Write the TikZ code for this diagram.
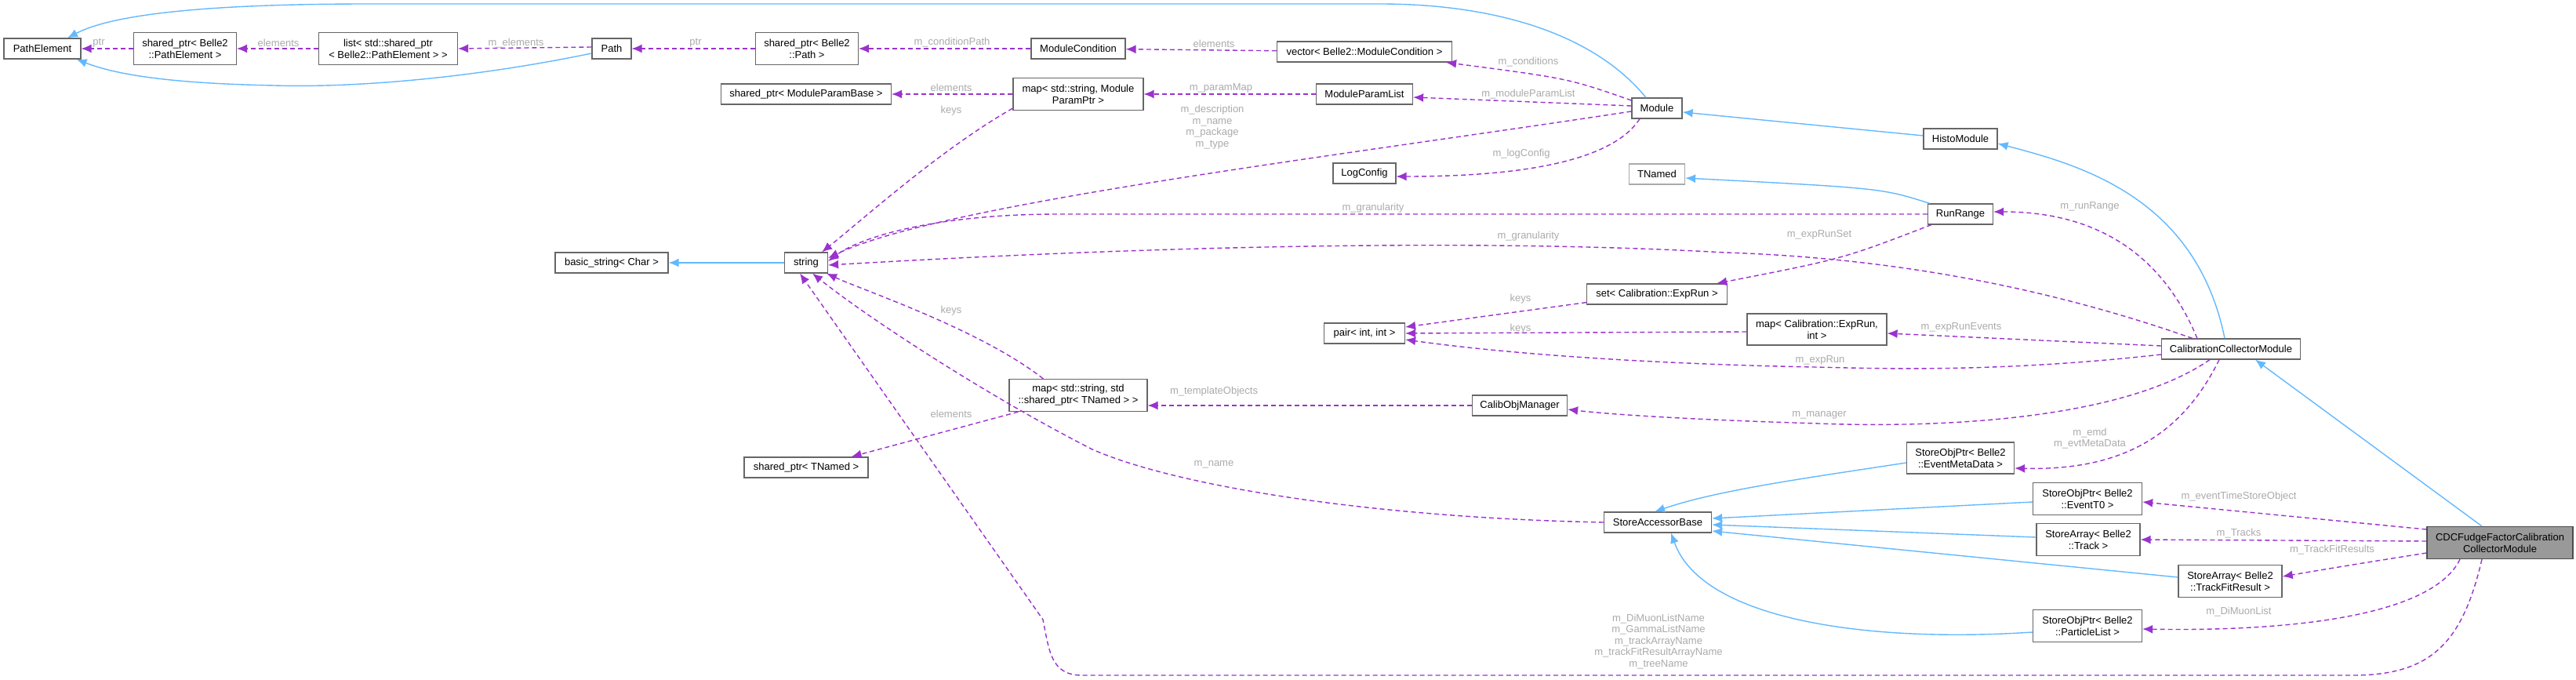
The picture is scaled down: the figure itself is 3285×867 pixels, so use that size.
\documentclass[tikz,border=0pt]{standalone}
\usepackage{fontspec}
\setmainfont{Liberation Sans}
\usetikzlibrary{arrows.meta,calc}
\definecolor{inhc}{RGB}{99,184,255}
\definecolor{usec}{RGB}{154,50,205}
\definecolor{lblc}{RGB}{170,170,170}
\definecolor{bordc}{RGB}{102,102,102}
\begin{document}
\begin{tikzpicture}[x=1pt,y=-1pt,
  box/.style={draw=bordc,line width=1.2pt,fill=white,font=\fontsize{13}{15}\selectfont,align=center,inner sep=1pt,minimum height=26pt},
  box2/.style={box,minimum height=41pt},
  inh/.style={draw=inhc,line width=1.4pt,-{Latex[length=13pt,width=11pt]}},
  use/.style={draw=usec,line width=1.4pt,dash pattern=on 6pt off 4pt,-{Latex[length=13pt,width=11pt]}},
  lbl/.style={text=lblc,font=\fontsize{13}{14.5}\selectfont,align=center,inner sep=0pt}]
\useasboundingbox (0,0) rectangle (3285,867);
% nodes
\node[box,minimum width=98pt] (pe) at (54,62) {PathElement};
\node[box2,minimum width=131pt] (spe) at (236,62) {shared\_ptr< Belle2\\::PathElement >};
\node[box2,minimum width=177pt] (lst) at (495,62) {list< std::shared\_ptr\\< Belle2::PathElement > >};
\node[box,minimum width=50pt] (path) at (780,62) {Path};
\node[box2,minimum width=131pt] (spp) at (1029,62) {shared\_ptr< Belle2\\::Path >};
\node[box,minimum width=120pt] (mc) at (1375,62) {ModuleCondition};
\node[box,minimum width=223pt] (vec) at (1740,66) {vector< Belle2::ModuleCondition >};
\node[box,minimum width=217pt] (spmb) at (1028,120) {shared\_ptr< ModuleParamBase >};
\node[box2,minimum width=166pt] (mpp) at (1375,120) {map< std::string, Module\\ParamPtr >};
\node[box,minimum width=123pt] (mpl) at (1740,120) {ModuleParamList};
\node[box,minimum width=64pt] (mod) at (2113,138) {Module};
\node[box,minimum width=80pt] (lc) at (1740,221) {LogConfig};
\node[box,minimum width=71pt,draw=lblc] (tn) at (2113,222) {TNamed};
\node[box,minimum width=94pt] (hm) at (2500,177) {HistoModule};
\node[box,minimum width=83pt] (rr) at (2500,273) {RunRange};
\node[box,minimum width=144pt] (bs) at (780,335) {basic\_string< Char >};
\node[box,minimum width=55pt] (str) at (1028,335) {string};
\node[box,minimum width=179pt] (set) at (2113,375) {set< Calibration::ExpRun >};
\node[box,minimum width=103pt] (pair) at (1740,425) {pair< int, int >};
\node[box2,minimum width=178pt,minimum height=40pt] (mer) at (2317,420) {map< Calibration::ExpRun,\\int >};
\node[box,minimum width=177pt] (ccm) at (2845,445) {CalibrationCollectorModule};
\node[box2,minimum width=176pt] (mst) at (1375,504) {map< std::string, std\\::shared\_ptr< TNamed > >};
\node[box,minimum width=121pt] (com) at (1938,517) {CalibObjManager};
\node[box,minimum width=158pt] (sptn) at (1028,596) {shared\_ptr< TNamed >};
\node[box2,minimum width=137pt,minimum height=40pt] (emd) at (2500,584) {StoreObjPtr< Belle2\\::EventMetaData >};
\node[box2,minimum width=139pt] (t0) at (2662,636) {StoreObjPtr< Belle2\\::EventT0 >};
\node[box2,minimum width=132pt] (trk) at (2663,688) {StoreArray< Belle2\\::Track >};
\node[box2,minimum width=132pt] (tfr) at (2844,741) {StoreArray< Belle2\\::TrackFitResult >};
\node[box2,minimum width=139pt] (pl) at (2662,798) {StoreObjPtr< Belle2\\::ParticleList >};
\node[box,minimum width=137pt] (sab) at (2114,666) {StoreAccessorBase};
\node[box2,minimum width=186pt,fill=black!40,draw=black!70] (cdc) at (3188,692) {CDCFudgeFactorCalibration\\CollectorModule};
% inheritance
\draw[inh] ($(mod.north)+(-14,0)$) .. controls (2030,40) and (1900,5) .. (1760,5) -- (470,5) .. controls (250,5) and (140,20) .. ($(pe.north)+(32,0)$);
\draw[inh] ($(path.west)+(0,6)$) .. controls (600,100) and (450,112) .. (350,109) .. controls (250,107) and (160,100) .. ($(pe.south east)+(-6,0)$);
\draw[inh] (str) -- (bs);
\draw[inh] ($(hm.west)+(0,-4)$) -- ($(mod.east)+(0,5)$);
\draw[inh] ($(rr.north west)+(3,0)$) .. controls (2400,240) .. ($(tn.east)+(0,5)$);
\draw[inh] ($(ccm.north)+(-8,0)$) .. controls (2800,250) and (2650,210) .. ($(hm.east)+(0,6)$);
\draw[inh] ($(cdc.north)+(-23,0)$) -- ($(ccm.south)+(31,0)$);
\draw[inh] ($(emd.west)+(0,6)$) .. controls (2300,610) and (2190,625) .. ($(sab.north)+(-4,0)$);
\draw[inh] ($(t0.west)+(0,4)$) -- ($(sab.east)+(0,-5)$);
\draw[inh] ($(trk.west)+(0,-3)$) -- ($(sab.east)+(0,3)$);
\draw[inh] ($(tfr.west)+(0,-5)$) -- ($(sab.east)+(0,11)$);
\draw[inh] ($(pl.west)+(0,8)$) .. controls (2380,820) and (2170,790) .. ($(sab.south)+(17,0)$);
% usage
\draw[use] (spe) -- (pe);
\draw[use] (lst) -- (spe);
\draw[use] ($(path.west)+(0,-2)$) -- (lst.east|-path.west);
\draw[use] (spp) -- (path);
\draw[use] (mc) -- (spp);
\draw[use] (vec) -- (mc);
\draw[use] ($(mod.west)+(0,-10)$) .. controls (2000,100) .. ($(vec.south east)+(-8,0)$);
\draw[use] (mpp.west|-spmb) -- (spmb);
\draw[use] ($(mpp.south west)+(0,-3)$) .. controls (1200,190) and (1100,280) .. ($(str.north east)+(-8,0)$);
\draw[use] (mpl) -- (mpp.east|-mpl);
\draw[use] ($(mod.west)+(0,-3)$) -- ($(mpl.east)+(0,4)$);
\draw[use] ($(mod.west)+(0,4)$) .. controls (1700,200) and (1200,260) .. ($(str.east)+(0,-6)$);
\draw[use] ($(mod.south)+(-22,0)$) .. controls (2050,215) and (1900,225) .. ($(lc.east)+(0,4)$);
\draw[use] (rr.west) -- (1350,273) .. controls (1200,273) and (1100,300) .. ($(str.east)+(0,-2)$);
\draw[use] ($(ccm.north west)+(40,0)$) .. controls (2650,380) and (2450,330) .. (2200,322) .. controls (1900,305) and (1500,312) .. ($(str.east)+(0,3)$);
\draw[use] ($(rr.south west)+(5,0)$) .. controls (2350,330) .. ($(set.north east)+(-14,0)$);
\draw[use] ($(ccm.north west)+(46,0)$) .. controls (2760,330) and (2680,270) .. ($(rr.east)+(0,-3)$);
\draw[use] ($(set.south west)+(0,-3)$) -- ($(pair.east)+(0,-8)$);
\draw[use] ($(mer.west)+(0,3)$) -- (pair.east);
\draw[use] ($(ccm.west)+(0,-4)$) -- ($(mer.east)+(0,5)$);
\draw[use] ($(ccm.west)+(0,7)$) .. controls (2550,475) and (2400,470) .. (2314,468) .. controls (2150,465) and (1950,455) .. ($(pair.east)+(0,8)$);
\draw[use] ($(mst.north west)+(44,0)$) .. controls (1250,420) and (1100,370) .. ($(str.south east)+(-2,0)$);
\draw[use] ($(mst.south west)+(12,0)$) -- ($(sptn.north east)+(-22,0)$);
\draw[use] (com) -- (mst.east|-com);
\draw[use] ($(ccm.south)+(-27,0)$) .. controls (2700,540) and (2450,545) .. (2320,540) .. controls (2150,535) and (2050,528) .. ($(com.east)+(0,5)$);
\draw[use] ($(ccm.south)+(-15,0)$) .. controls (2780,560) and (2700,600) .. ($(emd.east)+(0,13)$);
\draw[use] (sab.west) .. controls (1750,660) and (1500,620) .. (1393,573) .. controls (1250,500) and (1100,400) .. ($(str.south)+(8,0)$);
\draw[use] ($(cdc.west)+(0,-17)$) -- ($(t0.east)+(0,4)$);
\draw[use] ($(cdc.west)+(0,-2)$) -- ($(trk.east)+(0,0)$);
\draw[use] ($(cdc.west)+(0,13)$) .. controls (3000,720) .. ($(tfr.east)+(0,-6)$);
\draw[use] ($(cdc.south)+(-51,0)$) .. controls (3100,790) and (2900,805) .. ($(pl.east)+(0,4)$);
\draw[use] ($(cdc.south)+(-23,0)$) .. controls (3140,820) and (3100,861) .. (3000,861) -- (1380,861) .. controls (1340,861) and (1338,830) .. (1330,790) -- ($(str.south)+(-8,0)$);
% labels
\node[lbl] at (126,55) {ptr};
\node[lbl] at (355,55) {elements};
\node[lbl] at (658,55) {m\_elements};
\node[lbl] at (887,55) {ptr};
\node[lbl] at (1214,54) {m\_conditionPath};
\node[lbl] at (1548,56) {elements};
\node[lbl] at (1949,79) {m\_conditions};
\node[lbl] at (1213,112) {elements};
\node[lbl] at (1213,141) {keys};
\node[lbl] at (1557,112) {m\_paramMap};
\node[lbl] at (1949,120) {m\_moduleParamList};
\node[lbl] at (1546,162) {m\_description\\m\_name\\m\_package\\m\_type};
\node[lbl] at (1940,196) {m\_logConfig};
\node[lbl] at (1751,265) {m\_granularity};
\node[lbl] at (1949,301) {m\_granularity};
\node[lbl] at (2665,263) {m\_runRange};
\node[lbl] at (2320,299) {m\_expRunSet};
\node[lbl] at (1939,381) {keys};
\node[lbl] at (1939,419) {keys};
\node[lbl] at (1213,396) {keys};
\node[lbl] at (2501,417) {m\_expRunEvents};
\node[lbl] at (2321,459) {m\_expRun};
\node[lbl] at (1548,499) {m\_templateObjects};
\node[lbl] at (2320,529) {m\_manager};
\node[lbl] at (1213,528) {elements};
\node[lbl] at (2665,559) {m\_emd\\m\_evtMetaData};
\node[lbl] at (1548,592) {m\_name};
\node[lbl] at (2855,633) {m\_eventTimeStoreObject};
\node[lbl] at (2855,680) {m\_Tracks};
\node[lbl] at (2974,701) {m\_TrackFitResults};
\node[lbl] at (2855,780) {m\_DiMuonList};
\node[lbl] at (2115,818) {m\_DiMuonListName\\m\_GammaListName\\m\_trackArrayName\\m\_trackFitResultArrayName\\m\_treeName};
\end{tikzpicture}
\end{document}
